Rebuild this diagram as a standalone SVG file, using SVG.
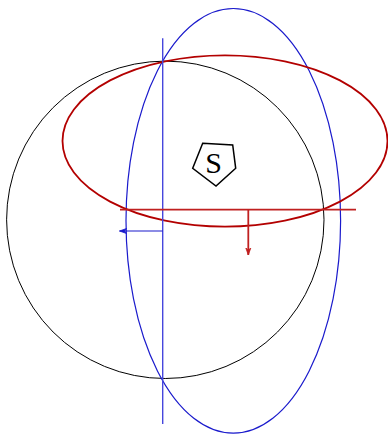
<svg xmlns="http://www.w3.org/2000/svg" width="388" height="434" viewBox="0 0 388 434">
<style>
.k{fill:none;stroke:#000;stroke-width:1}
.b{fill:none;stroke:#1a1acc;stroke-width:1.2}
.r{fill:none;stroke:#b30000;stroke-width:1.8}
.bl{fill:none;stroke:#4646dd;stroke-width:1.4}
.rl{fill:none;stroke:#c02020;stroke-width:1.8}
</style>
<defs>
<marker id="ar" markerWidth="8" markerHeight="8" refX="7" refY="4" orient="auto" markerUnits="userSpaceOnUse">
<path d="M0,1.5 L7,4 L0,6.5 L2,4 Z" fill="#c02020" stroke="#c02020" stroke-width="0.8"/>
</marker>
<marker id="ab" markerWidth="8" markerHeight="8" refX="7" refY="4" orient="auto" markerUnits="userSpaceOnUse">
<path d="M0,1.5 L7,4 L0,6.5 L2,4 Z" fill="#1a1acc" stroke="#1a1acc" stroke-width="0.8"/>
</marker>
</defs>
<g id="circle"><circle class="k" cx="165.3" cy="219.8" r="158.7"/></g>
<g id="blue-ellipse"><ellipse class="b" cx="233.3" cy="220.8" rx="107.3" ry="212.3"/></g>
<g id="red-ellipse"><ellipse class="r" cx="225" cy="141" rx="162.5" ry="85.7"/></g>
<g id="connectors">
<line class="bl" x1="162.7" y1="38.3" x2="162.7" y2="424"/>
<line class="rl" x1="120" y1="209.7" x2="356" y2="209.7"/>
<line class="rl" x1="248.3" y1="209.7" x2="248.3" y2="255" marker-end="url(#ar)"/>
<line class="b" x1="162.7" y1="231" x2="119.5" y2="231" marker-end="url(#ab)"/>
</g>
<g id="S">
<polygon points="202.7,143.3 232.7,145 235.7,168.3 216,186 192.7,168.3" fill="none" stroke="#000" stroke-width="1.5"/>
<text x="213.7" y="173.3" text-anchor="middle" font-family="Liberation Serif, serif" font-size="30">S</text>
</g>
</svg>
